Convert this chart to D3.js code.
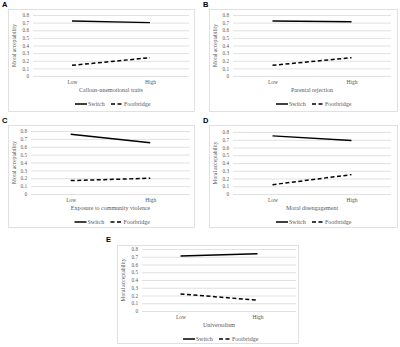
<!DOCTYPE html>
<html><head><meta charset="utf-8">
<script src="https://cdn.jsdelivr.net/npm/d3@7"></script>
<style>
body{margin:0;background:#fff;}
svg{display:block;}
</style></head>
<body>
<svg id="c" width="400" height="347"></svg>
<script>
const categories = ["Low", "High"];
const yTicks = [0, 0.1, 0.2, 0.3, 0.4, 0.5, 0.6, 0.7, 0.8];
const seriesNames = ["Switch", "Footbridge"];
const panelLetters = ["A", "B", "C", "D", "E"];
const xTitles = ["Callous-unemotional traits", "Parental rejection", "Exposure to community violence", "Moral disengagement", "Universalism"];
const switchValues = [[0.72, 0.70], [0.72, 0.71], [0.76, 0.65], [0.75, 0.69], [0.71, 0.74]];
const footbridgeValues = [[0.14, 0.24], [0.14, 0.24], [0.17, 0.20], [0.12, 0.25], [0.22, 0.14]];

// layout (positions only)
const layout = [
  {bx:8, by:9, bw:186, bh:102, pl:33, pr:189, pt:15, pb:76, lx:2, ly:7},
  {bx:209, by:9, bw:188, bh:102, pl:233, pr:391, pt:15, pb:76, lx:203, ly:7},
  {bx:8, by:125, bw:186, bh:102, pl:31, pr:190, pt:131, pb:194, lx:2, ly:123},
  {bx:209, by:125, bw:188, bh:102, pl:233, pr:391, pt:132, pb:194, lx:203, ly:123},
  {bx:117, by:245, bw:181, bh:98, pl:142, pr:296, pt:249, pb:311, lx:106, ly:242}
];

const svg = d3.select("#c");
const serif = "'Liberation Serif','Times New Roman',serif";
const grid = "#d9d9d9";

layout.forEach((L, i) => {
  const g = svg.append("g");
  g.append("rect").attr("x", L.bx + 0.5).attr("y", L.by + 0.5).attr("width", L.bw).attr("height", L.bh)
    .attr("fill", "#fff").attr("stroke", grid).attr("stroke-width", 0.8);
  g.append("text").attr("x", L.lx).attr("y", L.ly).text(panelLetters[i])
    .attr("font-family", "'Liberation Sans',Arial,sans-serif").attr("font-weight", "bold").attr("font-size", 7.5);

  const x = d3.scalePoint().domain(categories).range([L.pl, L.pr]).padding(0.5);
  const y = d3.scaleLinear().domain([0, 0.8]).range([L.pb, L.pt]);

  const yAxis = d3.axisLeft(y).tickValues(yTicks).tickSize(-(L.pr - L.pl)).tickPadding(4)
    .tickFormat(d => d === 0 ? "0" : d3.format(".1f")(d));
  const ya = g.append("g").attr("transform", `translate(${L.pl},0)`).call(yAxis);
  ya.select(".domain").remove();
  ya.selectAll(".tick line").attr("stroke", grid).attr("stroke-width", 0.8);
  ya.selectAll(".tick text").attr("font-family", serif).attr("font-size", 5.2).attr("fill", "#595959");

  const xAxis = d3.axisBottom(x).tickSize(0).tickPadding(4);
  const xa = g.append("g").attr("transform", `translate(0,${L.pb})`).call(xAxis);
  xa.select(".domain").remove();
  xa.selectAll(".tick text").attr("font-family", serif).attr("font-size", 5.5).attr("fill", "#595959");

  const cx = (L.pl + L.pr) / 2;
  g.append("text").attr("x", cx).attr("y", L.pb + 16).attr("text-anchor", "middle")
    .attr("font-family", serif).attr("font-size", 6).attr("fill", "#595959").text(xTitles[i]);
  g.append("text").attr("transform", `translate(${L.bx + 8},${(L.pt + L.pb) / 2}) rotate(-90)`)
    .attr("text-anchor", "middle").attr("font-family", serif).attr("font-size", 5.5).attr("fill", "#595959")
    .text("Moral acceptability");

  const line = d3.line().x((d, j) => x(categories[j])).y(d => y(d));
  g.append("path").datum(switchValues[i]).attr("d", line).attr("fill", "none")
    .attr("stroke", "#000").attr("stroke-width", 1.5);
  g.append("path").datum(footbridgeValues[i]).attr("d", line).attr("fill", "none")
    .attr("stroke", "#000").attr("stroke-width", 1.5).attr("stroke-dasharray", "4,2.5");

  // legend
  const ly = L.pb + 28;
  const lg = g.append("g").attr("transform", `translate(${cx - 36},${ly})`);
  lg.append("line").attr("x1", 0).attr("x2", 12).attr("y1", 0).attr("y2", 0).attr("stroke", "#000").attr("stroke-width", 1.5);
  lg.append("text").attr("x", 13).attr("y", 2).text(seriesNames[0]).attr("font-family", serif).attr("font-size", 6).attr("fill", "#595959");
  lg.append("line").attr("x1", 36).attr("x2", 47).attr("y1", 0).attr("y2", 0).attr("stroke", "#000").attr("stroke-width", 1.5).attr("stroke-dasharray", "4,2.5");
  lg.append("text").attr("x", 49).attr("y", 2).text(seriesNames[1]).attr("font-family", serif).attr("font-size", 6).attr("fill", "#595959");
});
</script>
</body></html>
